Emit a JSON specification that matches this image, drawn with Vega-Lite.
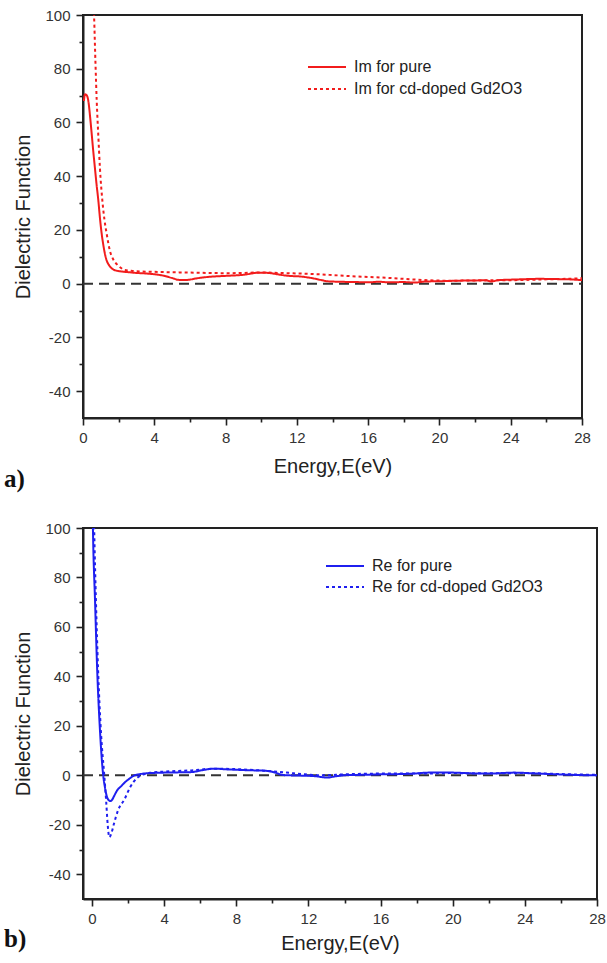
{
  "$schema": "https://vega.github.io/schema/vega-lite/v6.json",
  "background": "white",
  "padding": {"left": 3, "top": 7, "right": 2, "bottom": 5},
  "spacing": 27,
  "config": {
    "font": "Liberation Sans",
    "view": {"stroke": "#222", "strokeWidth": 2},
    "axis": {
      "grid": false,
      "domainColor": "#222",
      "domainWidth": 2,
      "tickColor": "#222",
      "tickWidth": 1.6,
      "labelFont": "Liberation Sans",
      "labelFontSize": 15,
      "labelColor": "#333",
      "labelFlush": false,
      "labelExpr": "'' + datum.value",
      "titleFont": "Liberation Sans",
      "titleFontSize": 20,
      "titleFontWeight": "normal",
      "titleColor": "#222"
    },
    "legend": {
      "labelFont": "Liberation Sans",
      "labelFontSize": 16,
      "labelColor": "#222",
      "labelLimit": 0,
      "symbolType": "M-1.9,0H1.9",
      "symbolSize": 400,
      "symbolStrokeWidth": 2,
      "labelOffset": 16,
      "padding": 0
    }
  },
  "resolve": {"scale": {"strokeDash": "independent"}, "legend": {"strokeDash": "independent"}},
  "vconcat": [
    {
      "width": 499,
      "height": 403,
      "title": {"text": "a)", "orient": "bottom", "anchor": "start", "frame": "group", "font": "Liberation Serif", "fontSize": 25, "fontWeight": "bold", "color": "#111", "dx": -79, "offset": -9},
      "resolve": {"axis": {"x": "independent", "y": "independent"}},
      "layer": [
        {
          "data": {"values": [{"x0": 0, "x1": 28, "y": 0}]},
          "mark": {"type": "rule", "color": "#333", "strokeWidth": 2, "strokeDash": [10, 6]},
          "encoding": {
            "x": {"field": "x0", "type": "quantitative", "scale": {"domain": [0, 28], "nice": false, "zero": false},
                  "axis": {"orient": "bottom", "values": [2, 6, 10, 14, 18, 22, 26], "labels": false, "tickSize": 4, "domain": false, "title": null}},
            "x2": {"field": "x1"},
            "y": {"field": "y", "type": "quantitative", "scale": {"domain": [-50, 100], "nice": false},
                  "axis": {"orient": "left", "values": [-30, -10, 10, 30, 50, 70, 90], "labels": false, "tickSize": 4, "domain": false, "title": null}}
          }
        },
        {
          "data": {"values": [
            {"series": "Im for pure", "E": 0.05, "v": 68}, {"series": "Im for pure", "E": 0.11, "v": 70.5}, {"series": "Im for pure", "E": 0.2, "v": 70.2},
            {"series": "Im for pure", "E": 0.3, "v": 68}, {"series": "Im for pure", "E": 0.4, "v": 62}, {"series": "Im for pure", "E": 0.49, "v": 55.6},
            {"series": "Im for pure", "E": 0.58, "v": 49}, {"series": "Im for pure", "E": 0.67, "v": 43}, {"series": "Im for pure", "E": 0.76, "v": 37},
            {"series": "Im for pure", "E": 0.86, "v": 31}, {"series": "Im for pure", "E": 0.95, "v": 24.5}, {"series": "Im for pure", "E": 1.05, "v": 18.5},
            {"series": "Im for pure", "E": 1.15, "v": 14}, {"series": "Im for pure", "E": 1.25, "v": 10.5}, {"series": "Im for pure", "E": 1.33, "v": 8.6},
            {"series": "Im for pure", "E": 1.45, "v": 7}, {"series": "Im for pure", "E": 1.6, "v": 5.8}, {"series": "Im for pure", "E": 1.75, "v": 5.1},
            {"series": "Im for pure", "E": 1.9, "v": 4.8}, {"series": "Im for pure", "E": 2.2, "v": 4.5}, {"series": "Im for pure", "E": 2.5, "v": 4.3},
            {"series": "Im for pure", "E": 3, "v": 4.0}, {"series": "Im for pure", "E": 3.5, "v": 3.8}, {"series": "Im for pure", "E": 4, "v": 3.5},
            {"series": "Im for pure", "E": 4.5, "v": 3.0}, {"series": "Im for pure", "E": 5, "v": 2.1}, {"series": "Im for pure", "E": 5.4, "v": 1.4},
            {"series": "Im for pure", "E": 5.8, "v": 1.4}, {"series": "Im for pure", "E": 6.4, "v": 2.0}, {"series": "Im for pure", "E": 7, "v": 2.5},
            {"series": "Im for pure", "E": 8, "v": 2.9}, {"series": "Im for pure", "E": 9, "v": 3.3}, {"series": "Im for pure", "E": 9.9, "v": 4.1},
            {"series": "Im for pure", "E": 10.4, "v": 4.0}, {"series": "Im for pure", "E": 10.9, "v": 3.5}, {"series": "Im for pure", "E": 11.4, "v": 3.0},
            {"series": "Im for pure", "E": 12.3, "v": 2.6}, {"series": "Im for pure", "E": 12.9, "v": 2.0}, {"series": "Im for pure", "E": 13.4, "v": 1.3},
            {"series": "Im for pure", "E": 13.7, "v": 0.9}, {"series": "Im for pure", "E": 14.5, "v": 0.7}, {"series": "Im for pure", "E": 15.3, "v": 0.6},
            {"series": "Im for pure", "E": 16, "v": 0.5}, {"series": "Im for pure", "E": 16.6, "v": 0.7}, {"series": "Im for pure", "E": 17.2, "v": 0.5},
            {"series": "Im for pure", "E": 18, "v": 0.6}, {"series": "Im for pure", "E": 18.6, "v": 0.4}, {"series": "Im for pure", "E": 19.2, "v": 0.8},
            {"series": "Im for pure", "E": 20, "v": 0.9}, {"series": "Im for pure", "E": 21, "v": 1.1}, {"series": "Im for pure", "E": 22, "v": 1.2},
            {"series": "Im for pure", "E": 22.6, "v": 1.3}, {"series": "Im for pure", "E": 22.9, "v": 0.8}, {"series": "Im for pure", "E": 23.3, "v": 1.3},
            {"series": "Im for pure", "E": 24, "v": 1.5}, {"series": "Im for pure", "E": 24.5, "v": 1.6}, {"series": "Im for pure", "E": 25.6, "v": 1.8},
            {"series": "Im for pure", "E": 26.5, "v": 1.7}, {"series": "Im for pure", "E": 27.3, "v": 1.6}, {"series": "Im for pure", "E": 28, "v": 1.3},
            {"series": "Im for cd-doped Gd2O3", "E": 0.55, "v": 112}, {"series": "Im for cd-doped Gd2O3", "E": 0.62, "v": 100},
            {"series": "Im for cd-doped Gd2O3", "E": 0.7, "v": 82}, {"series": "Im for cd-doped Gd2O3", "E": 0.77, "v": 68},
            {"series": "Im for cd-doped Gd2O3", "E": 0.86, "v": 55}, {"series": "Im for cd-doped Gd2O3", "E": 0.95, "v": 43},
            {"series": "Im for cd-doped Gd2O3", "E": 1.1, "v": 30}, {"series": "Im for cd-doped Gd2O3", "E": 1.2, "v": 24},
            {"series": "Im for cd-doped Gd2O3", "E": 1.33, "v": 18.5}, {"series": "Im for cd-doped Gd2O3", "E": 1.5, "v": 12.5},
            {"series": "Im for cd-doped Gd2O3", "E": 1.7, "v": 9}, {"series": "Im for cd-doped Gd2O3", "E": 1.9, "v": 7.2},
            {"series": "Im for cd-doped Gd2O3", "E": 2.1, "v": 6}, {"series": "Im for cd-doped Gd2O3", "E": 2.3, "v": 5.2},
            {"series": "Im for cd-doped Gd2O3", "E": 2.7, "v": 4.8}, {"series": "Im for cd-doped Gd2O3", "E": 3, "v": 4.6},
            {"series": "Im for cd-doped Gd2O3", "E": 4, "v": 4.4}, {"series": "Im for cd-doped Gd2O3", "E": 5.4, "v": 4.2},
            {"series": "Im for cd-doped Gd2O3", "E": 7, "v": 4.0}, {"series": "Im for cd-doped Gd2O3", "E": 8, "v": 3.9},
            {"series": "Im for cd-doped Gd2O3", "E": 9, "v": 4.0}, {"series": "Im for cd-doped Gd2O3", "E": 9.9, "v": 4.2},
            {"series": "Im for cd-doped Gd2O3", "E": 11, "v": 4.0}, {"series": "Im for cd-doped Gd2O3", "E": 12, "v": 3.8},
            {"series": "Im for cd-doped Gd2O3", "E": 12.9, "v": 3.6}, {"series": "Im for cd-doped Gd2O3", "E": 14, "v": 3.2},
            {"series": "Im for cd-doped Gd2O3", "E": 15, "v": 2.8}, {"series": "Im for cd-doped Gd2O3", "E": 16.7, "v": 2.3},
            {"series": "Im for cd-doped Gd2O3", "E": 18, "v": 1.8}, {"series": "Im for cd-doped Gd2O3", "E": 19, "v": 1.4},
            {"series": "Im for cd-doped Gd2O3", "E": 20.4, "v": 1.1}, {"series": "Im for cd-doped Gd2O3", "E": 22, "v": 1.2},
            {"series": "Im for cd-doped Gd2O3", "E": 24.1, "v": 1.3}, {"series": "Im for cd-doped Gd2O3", "E": 26, "v": 1.6},
            {"series": "Im for cd-doped Gd2O3", "E": 28, "v": 2.0}
          ]},
          "mark": {"type": "line", "clip": true, "strokeWidth": 2, "color": "#f21c1c", "interpolate": "monotone"},
          "encoding": {
            "x": {"field": "E", "type": "quantitative", "scale": {"domain": [0, 28], "nice": false, "zero": false},
                  "axis": {"orient": "bottom", "values": [0, 4, 8, 12, 16, 20, 24, 28], "tickSize": 7, "labelPadding": 5, "title": "Energy,E(eV)", "titlePadding": 11}},
            "y": {"field": "v", "type": "quantitative", "scale": {"domain": [-50, 100], "nice": false},
                  "axis": {"orient": "left", "values": [-40, -20, 0, 20, 40, 60, 80, 100], "tickSize": 7, "labelPadding": 6, "title": "Dielectric Function", "titlePadding": 11}},
            "strokeDash": {"field": "series", "type": "nominal",
                  "scale": {"domain": ["Im for pure", "Im for cd-doped Gd2O3"], "range": [[1, 0], [3, 3]]},
                  "legend": {"title": null, "orient": "none", "legendX": 233, "legendY": 41, "rowPadding": 3, "symbolStrokeColor": "#f21c1c"}}
          }
        }
      ]
    },
    {
      "width": 514,
      "height": 371,
      "title": {"text": "b)", "orient": "bottom", "anchor": "start", "frame": "group", "font": "Liberation Serif", "fontSize": 25, "fontWeight": "bold", "color": "#111", "dx": -79, "offset": -26},
      "resolve": {"axis": {"x": "independent", "y": "independent"}},
      "layer": [
        {
          "data": {"values": [{"x0": -0.5, "x1": 28, "y": 0}]},
          "mark": {"type": "rule", "color": "#333", "strokeWidth": 2, "strokeDash": [10, 6]},
          "encoding": {
            "x": {"field": "x0", "type": "quantitative", "scale": {"domain": [-0.5, 28], "nice": false, "zero": false},
                  "axis": {"orient": "bottom", "values": [2, 6, 10, 14, 18, 22, 26], "labels": false, "tickSize": 4, "domain": false, "title": null}},
            "x2": {"field": "x1"},
            "y": {"field": "y", "type": "quantitative", "scale": {"domain": [-50, 100], "nice": false},
                  "axis": {"orient": "left", "values": [-30, -10, 10, 30, 50, 70, 90], "labels": false, "tickSize": 4, "domain": false, "title": null}}
          }
        },
        {
          "data": {"values": [
            {"series": "Re for pure", "E": 0.0, "v": 125}, {"series": "Re for pure", "E": 0.05, "v": 100}, {"series": "Re for pure", "E": 0.17, "v": 70},
            {"series": "Re for pure", "E": 0.28, "v": 44}, {"series": "Re for pure", "E": 0.45, "v": 17}, {"series": "Re for pure", "E": 0.62, "v": 0},
            {"series": "Re for pure", "E": 0.72, "v": -5}, {"series": "Re for pure", "E": 0.82, "v": -8.5}, {"series": "Re for pure", "E": 0.92, "v": -10},
            {"series": "Re for pure", "E": 1.01, "v": -10.4}, {"series": "Re for pure", "E": 1.1, "v": -10}, {"series": "Re for pure", "E": 1.25, "v": -8},
            {"series": "Re for pure", "E": 1.4, "v": -6}, {"series": "Re for pure", "E": 1.6, "v": -4.5}, {"series": "Re for pure", "E": 1.8, "v": -3},
            {"series": "Re for pure", "E": 2.1, "v": -1.2}, {"series": "Re for pure", "E": 2.3, "v": -0.2}, {"series": "Re for pure", "E": 2.6, "v": 0.4},
            {"series": "Re for pure", "E": 3, "v": 0.8}, {"series": "Re for pure", "E": 4, "v": 1.1}, {"series": "Re for pure", "E": 5.5, "v": 1.3},
            {"series": "Re for pure", "E": 6.2, "v": 2.2}, {"series": "Re for pure", "E": 6.77, "v": 2.7}, {"series": "Re for pure", "E": 7.5, "v": 2.4},
            {"series": "Re for pure", "E": 8.5, "v": 2.1}, {"series": "Re for pure", "E": 9.7, "v": 1.8}, {"series": "Re for pure", "E": 10.2, "v": 1.0},
            {"series": "Re for pure", "E": 10.6, "v": 0.1}, {"series": "Re for pure", "E": 11.5, "v": -0.1}, {"series": "Re for pure", "E": 12.3, "v": -0.3},
            {"series": "Re for pure", "E": 13.04, "v": -0.9}, {"series": "Re for pure", "E": 13.5, "v": -0.4}, {"series": "Re for pure", "E": 14.1, "v": 0.1},
            {"series": "Re for pure", "E": 15, "v": 0.2}, {"series": "Re for pure", "E": 16, "v": 0.4}, {"series": "Re for pure", "E": 17, "v": 0.5},
            {"series": "Re for pure", "E": 17.8, "v": 0.7}, {"series": "Re for pure", "E": 18.7, "v": 1.1}, {"series": "Re for pure", "E": 20, "v": 1.1},
            {"series": "Re for pure", "E": 21, "v": 0.8}, {"series": "Re for pure", "E": 22, "v": 0.7}, {"series": "Re for pure", "E": 23.4, "v": 1.1},
            {"series": "Re for pure", "E": 24.5, "v": 0.8}, {"series": "Re for pure", "E": 25.5, "v": 0.5}, {"series": "Re for pure", "E": 27.1, "v": 0.1},
            {"series": "Re for pure", "E": 28, "v": 0.0},
            {"series": "Re for cd-doped Gd2O3", "E": 0.06, "v": 125}, {"series": "Re for cd-doped Gd2O3", "E": 0.12, "v": 100},
            {"series": "Re for cd-doped Gd2O3", "E": 0.22, "v": 70}, {"series": "Re for cd-doped Gd2O3", "E": 0.33, "v": 44},
            {"series": "Re for cd-doped Gd2O3", "E": 0.5, "v": 17}, {"series": "Re for cd-doped Gd2O3", "E": 0.68, "v": 0},
            {"series": "Re for cd-doped Gd2O3", "E": 0.78, "v": -10}, {"series": "Re for cd-doped Gd2O3", "E": 0.87, "v": -20},
            {"series": "Re for cd-doped Gd2O3", "E": 0.96, "v": -25}, {"series": "Re for cd-doped Gd2O3", "E": 1.05, "v": -24},
            {"series": "Re for cd-doped Gd2O3", "E": 1.2, "v": -20}, {"series": "Re for cd-doped Gd2O3", "E": 1.45, "v": -14},
            {"series": "Re for cd-doped Gd2O3", "E": 1.8, "v": -9.7}, {"series": "Re for cd-doped Gd2O3", "E": 2.1, "v": -5},
            {"series": "Re for cd-doped Gd2O3", "E": 2.53, "v": -0.9}, {"series": "Re for cd-doped Gd2O3", "E": 3.2, "v": 1.0},
            {"series": "Re for cd-doped Gd2O3", "E": 4, "v": 1.5}, {"series": "Re for cd-doped Gd2O3", "E": 5.5, "v": 2.0},
            {"series": "Re for cd-doped Gd2O3", "E": 6.77, "v": 2.7}, {"series": "Re for cd-doped Gd2O3", "E": 8, "v": 2.5},
            {"series": "Re for cd-doped Gd2O3", "E": 9.7, "v": 1.8}, {"series": "Re for cd-doped Gd2O3", "E": 10.8, "v": 1.1},
            {"series": "Re for cd-doped Gd2O3", "E": 11.8, "v": 0.4}, {"series": "Re for cd-doped Gd2O3", "E": 12.8, "v": 0.0},
            {"series": "Re for cd-doped Gd2O3", "E": 14, "v": 0.4}, {"series": "Re for cd-doped Gd2O3", "E": 16, "v": 0.7},
            {"series": "Re for cd-doped Gd2O3", "E": 18, "v": 0.7}, {"series": "Re for cd-doped Gd2O3", "E": 20, "v": 0.9},
            {"series": "Re for cd-doped Gd2O3", "E": 22, "v": 0.8}, {"series": "Re for cd-doped Gd2O3", "E": 24, "v": 0.9},
            {"series": "Re for cd-doped Gd2O3", "E": 26, "v": 0.5}, {"series": "Re for cd-doped Gd2O3", "E": 28, "v": 0.2}
          ]},
          "mark": {"type": "line", "clip": true, "strokeWidth": 2, "color": "#1f1fef", "interpolate": "monotone"},
          "encoding": {
            "x": {"field": "E", "type": "quantitative", "scale": {"domain": [-0.5, 28], "nice": false, "zero": false},
                  "axis": {"orient": "bottom", "values": [0, 4, 8, 12, 16, 20, 24, 28], "tickSize": 7, "labelPadding": 5, "title": "Energy,E(eV)", "titlePadding": 7}},
            "y": {"field": "v", "type": "quantitative", "scale": {"domain": [-50, 100], "nice": false},
                  "axis": {"orient": "left", "values": [-40, -20, 0, 20, 40, 60, 80, 100], "tickSize": 7, "labelPadding": 6, "title": "Dielectric Function", "titlePadding": 11}},
            "strokeDash": {"field": "series", "type": "nominal",
                  "scale": {"domain": ["Re for pure", "Re for cd-doped Gd2O3"], "range": [[1, 0], [3, 3]]},
                  "legend": {"title": null, "orient": "none", "legendX": 251, "legendY": 27, "rowPadding": 2, "symbolStrokeColor": "#1f1fef"}}
          }
        }
      ]
    }
  ]
}
